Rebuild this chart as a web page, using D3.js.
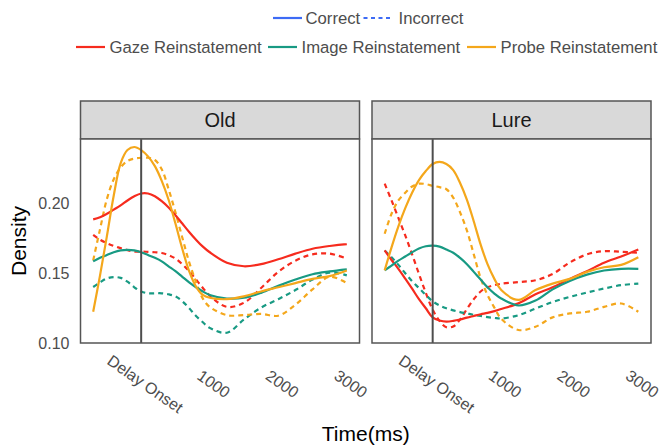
<!DOCTYPE html>
<html>
<head>
<meta charset="utf-8">
<script src="https://cdn.jsdelivr.net/npm/d3@7"></script>
<style>
  html, body { margin: 0; padding: 0; background: #fff; }
  svg { display: block; font-family: "Liberation Sans", Arial, sans-serif; }
</style>
</head>
<body>
<svg id="chart" width="661" height="447"></svg>
<script>
// ---------------- DATA ----------------
const facets = ["Old", "Lure"];
const times = [-700,-600,-500,-400,-300,-200,-100,0,100,200,300,400,500,600,700,800,900,1000,1250,1500,1750,2000,2250,2500,2750,3000];

const oldGazeCorrect    = [0.188,0.1895,0.192,0.195,0.198,0.2015,0.2045,0.2065,0.2065,0.2045,0.201,0.1965,0.191,0.185,0.179,0.1735,0.1685,0.1645,0.157,0.1545,0.156,0.1595,0.1635,0.167,0.169,0.1703];
const oldGazeIncorrect  = [0.177,0.1735,0.171,0.169,0.1675,0.166,0.165,0.165,0.1648,0.1645,0.164,0.1625,0.16,0.156,0.151,0.145,0.139,0.1335,0.1255,0.1285,0.139,0.1505,0.1585,0.163,0.1635,0.160];
const oldImageCorrect   = [0.158,0.1605,0.1625,0.1645,0.1658,0.1662,0.1658,0.1645,0.1625,0.1605,0.158,0.1545,0.151,0.147,0.143,0.1395,0.1365,0.134,0.1315,0.132,0.1355,0.1405,0.145,0.1488,0.1508,0.1523];
const oldImageIncorrect = [0.1397,0.143,0.1458,0.1468,0.1462,0.1435,0.1395,0.1365,0.1352,0.1352,0.1352,0.1345,0.133,0.1295,0.1245,0.119,0.1145,0.1105,0.107,0.1165,0.125,0.131,0.1375,0.145,0.150,0.148];
const oldProbeCorrect   = [0.122,0.148,0.176,0.205,0.228,0.2375,0.2397,0.2375,0.233,0.226,0.2155,0.202,0.185,0.167,0.151,0.140,0.134,0.132,0.131,0.133,0.1365,0.1395,0.1425,0.1455,0.1475,0.1515];
const oldProbeIncorrect = [0.1587,0.181,0.2025,0.2167,0.225,0.2297,0.2314,0.232,0.232,0.2304,0.2238,0.2096,0.193,0.175,0.1575,0.1433,0.1314,0.1255,0.1196,0.1196,0.1205,0.1192,0.127,0.138,0.147,0.1425];

const lureGazeCorrect    = [0.1658,0.159,0.1527,0.1457,0.1385,0.131,0.1245,0.118,0.1158,0.115,0.1155,0.1165,0.1178,0.119,0.1202,0.1212,0.1225,0.124,0.128,0.1345,0.1395,0.1455,0.151,0.157,0.1615,0.1665];
const lureGazeIncorrect  = [0.2135,0.2015,0.189,0.1765,0.163,0.149,0.1355,0.1235,0.1155,0.111,0.1115,0.1165,0.124,0.131,0.1365,0.1395,0.141,0.142,0.1432,0.1445,0.149,0.1572,0.163,0.1653,0.1648,0.1641];
const lureImageCorrect   = [0.1516,0.155,0.1585,0.1615,0.1645,0.1672,0.1688,0.1692,0.1685,0.1665,0.1642,0.1605,0.156,0.1505,0.145,0.1395,0.135,0.1315,0.1265,0.130,0.138,0.144,0.1485,0.1515,0.1527,0.1527];
const lureImageIncorrect = [0.1658,0.161,0.1555,0.1495,0.1438,0.139,0.134,0.1295,0.1265,0.1245,0.123,0.1218,0.1208,0.1198,0.119,0.1182,0.1176,0.1172,0.1195,0.1243,0.129,0.1326,0.1357,0.1386,0.141,0.1421];
const lureProbeCorrect   = [0.1516,0.168,0.183,0.196,0.207,0.216,0.2225,0.2275,0.229,0.2275,0.2232,0.214,0.202,0.1865,0.170,0.156,0.1455,0.1375,0.1305,0.1375,0.1421,0.1455,0.1505,0.1538,0.1555,0.161];
const lureProbeIncorrect = [0.1777,0.192,0.2015,0.207,0.2115,0.2135,0.2132,0.212,0.211,0.2095,0.2035,0.193,0.18,0.163,0.146,0.134,0.125,0.117,0.109,0.1113,0.118,0.1208,0.122,0.1255,0.1279,0.122];

const reinstatements = ["Gaze Reinstatement", "Image Reinstatement", "Probe Reinstatement"];
const accuracies = ["Correct", "Incorrect"];
const xTickValues = [0, 1000, 2000, 3000];
const xTickLabels = ["Delay Onset", "1000", "2000", "3000"];
const yTickValues = [0.10, 0.15, 0.20];
const onsetTime = 0;

// ---------------- STYLE ----------------
const colors = { "Gaze Reinstatement": "#F62B1E", "Image Reinstatement": "#189A83", "Probe Reinstatement": "#F4A71B" };
const accColor = "#3D6BF5";
const dashFor = { "Correct": null, "Incorrect": "5,4" };

const seriesByFacet = {
  "Old": [
    { r: reinstatements[0], a: "Correct", v: oldGazeCorrect },
    { r: reinstatements[0], a: "Incorrect", v: oldGazeIncorrect },
    { r: reinstatements[1], a: "Correct", v: oldImageCorrect },
    { r: reinstatements[1], a: "Incorrect", v: oldImageIncorrect },
    { r: reinstatements[2], a: "Correct", v: oldProbeCorrect },
    { r: reinstatements[2], a: "Incorrect", v: oldProbeIncorrect }
  ],
  "Lure": [
    { r: reinstatements[0], a: "Correct", v: lureGazeCorrect },
    { r: reinstatements[0], a: "Incorrect", v: lureGazeIncorrect },
    { r: reinstatements[1], a: "Correct", v: lureImageCorrect },
    { r: reinstatements[1], a: "Incorrect", v: lureImageIncorrect },
    { r: reinstatements[2], a: "Correct", v: lureProbeCorrect },
    { r: reinstatements[2], a: "Incorrect", v: lureProbeIncorrect }
  ]
};

// ---------------- LAYOUT ----------------
const svg = d3.select("#chart");
const panelTop = 139, panelBottom = 343, stripTop = 101;
const panelX = { "Old": [80.5, 359.5], "Lure": [372, 651] };
const borderColor = "#555555";

const xExtent = d3.extent(times);
const xPad = (xExtent[1] - xExtent[0]) * 0.05;
const y = d3.scaleLinear().domain([0.0997, 0.2454]).range([panelBottom, panelTop]);

facets.forEach(f => {
  const [x0, x1] = panelX[f];
  const x = d3.scaleLinear().domain([xExtent[0] - xPad, xExtent[1] + xPad]).range([x0, x1]);
  const g = svg.append("g");

  // strip
  g.append("rect").attr("x", x0).attr("y", stripTop).attr("width", x1 - x0).attr("height", panelTop - stripTop)
    .attr("fill", "#D9D9D9").attr("stroke", borderColor).attr("stroke-width", 1.5);
  g.append("text").attr("x", (x0 + x1) / 2).attr("y", (stripTop + panelTop) / 2)
    .attr("text-anchor", "middle").attr("dominant-baseline", "central")
    .attr("font-size", 20).attr("fill", "#1A1A1A").text(f);

  // panel background
  g.append("rect").attr("x", x0).attr("y", panelTop).attr("width", x1 - x0).attr("height", panelBottom - panelTop)
    .attr("fill", "#fff");

  // clip
  const clipId = "clip-" + f;
  svg.append("clipPath").attr("id", clipId).append("rect")
    .attr("x", x0).attr("y", panelTop).attr("width", x1 - x0).attr("height", panelBottom - panelTop);

  const line = d3.line().x((d, i) => x(times[i])).y(d => y(d)).curve(d3.curveCatmullRom.alpha(0.5));
  const lines = g.append("g").attr("clip-path", `url(#${clipId})`);
  const ordered = seriesByFacet[f].slice().sort((a, b) => (a.a === "Incorrect" ? -1 : 1) - (b.a === "Incorrect" ? -1 : 1));
  ordered.forEach(s => {
    lines.append("path").datum(s.v).attr("d", line)
      .attr("fill", "none").attr("stroke", colors[s.r]).attr("stroke-width", 2.2)
      .attr("stroke-dasharray", dashFor[s.a]).attr("stroke-linecap", "butt");
  });

  // onset line
  g.append("line").attr("x1", x(onsetTime)).attr("x2", x(onsetTime)).attr("y1", panelTop).attr("y2", panelBottom)
    .attr("stroke", "#4D4D4D").attr("stroke-width", 2);

  // panel border
  g.append("rect").attr("x", x0).attr("y", panelTop).attr("width", x1 - x0).attr("height", panelBottom - panelTop)
    .attr("fill", "none").attr("stroke", borderColor).attr("stroke-width", 1.5);

  // x axis (labels only, rotated)
  const xAxis = d3.axisBottom(x).tickValues(xTickValues).tickSize(0)
    .tickFormat((d, i) => xTickLabels[i]);
  const ax = g.append("g").attr("transform", `translate(0,${panelBottom})`).call(xAxis);
  ax.select(".domain").remove();
  ax.selectAll("text")
    .attr("font-family", "Liberation Sans, Arial, sans-serif")
    .attr("font-size", 16).attr("fill", "#4D4D4D")
    .attr("text-anchor", "middle").attr("dominant-baseline", "central")
    .attr("y", 0).attr("dy", null)
    .attr("transform", "translate(3.5,41) rotate(35)");

  if (f === "Old") {
    const yAxis = d3.axisLeft(y).tickValues(yTickValues).tickSize(0).tickFormat(d3.format(".2f"));
    const ay = g.append("g").attr("transform", `translate(${x0 - 11},0)`).call(yAxis);
    ay.select(".domain").remove();
    ay.selectAll("text")
      .attr("font-family", "Liberation Sans, Arial, sans-serif")
      .attr("font-size", 16).attr("fill", "#4D4D4D")
      .attr("x", 0).attr("dy", null).attr("dominant-baseline", "central");
  }
});

// axis titles
svg.append("text").attr("x", (panelX.Old[0] + panelX.Lure[1]) / 2).attr("y", 441)
  .attr("text-anchor", "middle").attr("font-size", 21).attr("fill", "#000").text("Time(ms)");
svg.append("text").attr("transform", `translate(26,${(panelTop + panelBottom) / 2}) rotate(-90)`)
  .attr("text-anchor", "middle").attr("font-size", 21).attr("fill", "#000").text("Density");

// ---------------- LEGENDS ----------------
const legendFont = 16.7;
const leg1 = [
  { label: accuracies[0], dash: dashFor["Correct"], kx: 273, tx: 305.5 },
  { label: accuracies[1], dash: dashFor["Incorrect"], kx: 363.5, tx: 398.5 }
];
leg1.forEach(d => {
  svg.append("line").attr("x1", d.kx).attr("x2", d.kx + 29).attr("y1", 18).attr("y2", 18)
    .attr("stroke", accColor).attr("stroke-width", 2.2).attr("stroke-dasharray", d.dash ? "4,3.5" : null);
  svg.append("text").attr("x", d.tx).attr("y", 18).attr("dominant-baseline", "central")
    .attr("font-size", legendFont).attr("fill", "#4D4D4D").text(d.label);
});
const leg2 = [
  { label: reinstatements[0], kx: 76, tx: 109.5 },
  { label: reinstatements[1], kx: 268, tx: 301.5 },
  { label: reinstatements[2], kx: 467, tx: 500.5 }
];
leg2.forEach(d => {
  svg.append("line").attr("x1", d.kx).attr("x2", d.kx + 29).attr("y1", 47).attr("y2", 47)
    .attr("stroke", colors[d.label]).attr("stroke-width", 2.2);
  svg.append("text").attr("x", d.tx).attr("y", 47).attr("dominant-baseline", "central")
    .attr("font-size", legendFont).attr("fill", "#4D4D4D").text(d.label);
});
</script>
</body>
</html>
